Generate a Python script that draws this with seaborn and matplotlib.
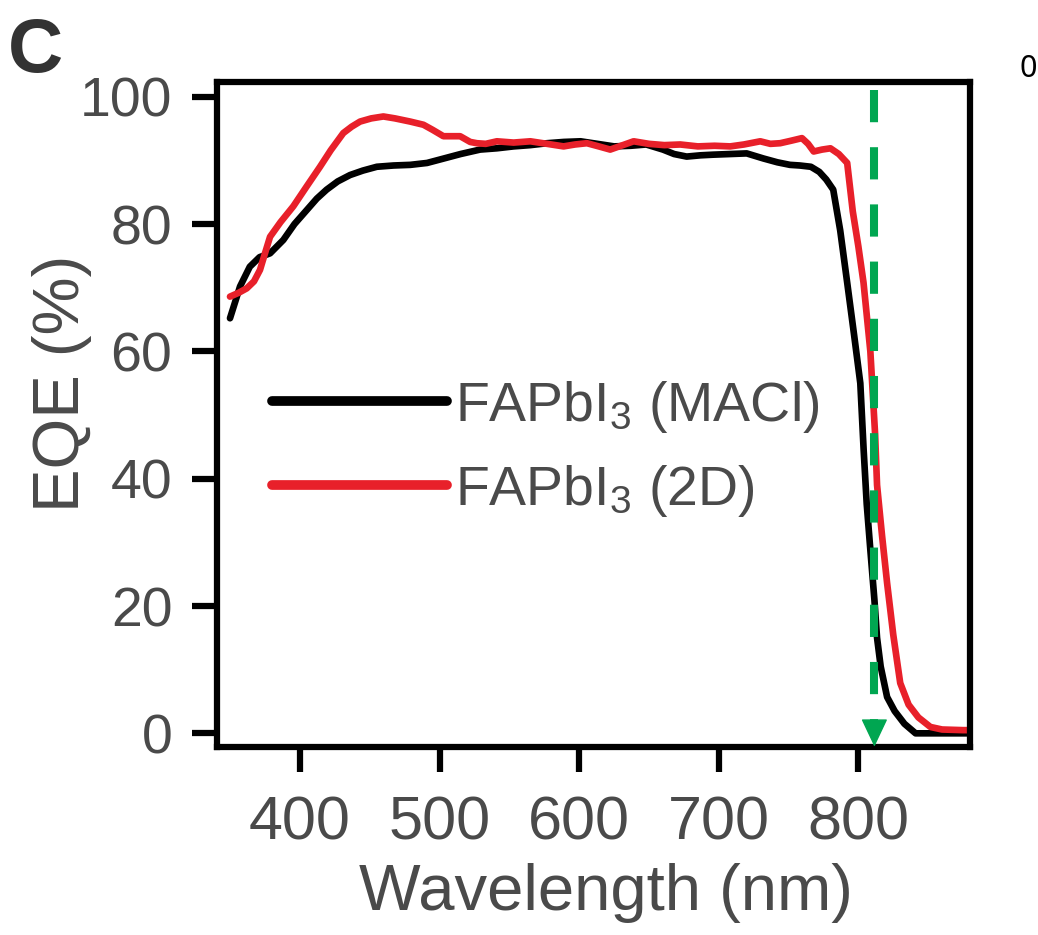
import numpy as np
import pandas as pd
import matplotlib
matplotlib.use("Agg")
import matplotlib.pyplot as plt
import seaborn as sns

# EQE spectra (wavelength in nm, EQE in %)
maci_nm = [349.8, 357, 364, 371, 378.5, 388, 396, 404.8, 412, 419, 427, 435.8,
           445, 455, 467, 479, 491, 503, 515, 529, 541, 553, 565, 577, 589,
           601, 613, 625, 637, 648, 660, 668, 677, 687, 696, 708, 720, 732,
           742, 751, 758, 766, 772, 777, 782, 787, 792, 797, 801.4, 803.8,
           806, 808.6, 811.5, 813.4, 816, 820.6, 826, 833, 841, 860, 880]
maci_eqe = [65.2, 70.2, 73.3, 74.8, 75.4, 77.5, 80.0, 82.2, 84.0, 85.4, 86.7, 87.7,
            88.4, 89.0, 89.2, 89.3, 89.6, 90.3, 91.0, 91.7, 91.9, 92.2, 92.4, 92.7, 92.9,
            93.0, 92.6, 92.2, 92.3, 92.5, 91.7, 91.0, 90.6, 90.8, 90.9, 91.0, 91.1, 90.3,
            89.7, 89.3, 89.2, 89.0, 88.2, 87.0, 85.4, 79.0, 70.8, 62.5, 55.0, 44.5,
            36.0, 28.8, 21.0, 15.0, 10.5, 5.7, 3.5, 1.5, 0.0, 0.0, 0.0]

twod_nm = [349.8, 356, 361.8, 367, 371.3, 375, 378.5, 386, 395.2, 405, 414.3, 422,
           431, 437, 443, 451, 459.7, 468, 478.9, 488.4, 495, 502.7, 514.7, 521.9,
           526.7, 533, 541, 553, 565, 577, 588.8, 597, 605.5, 614, 622.2, 630, 639,
           650, 661, 672.4, 685, 697, 708.2, 718, 729.7, 737, 744, 752, 759.6, 764,
           768, 774, 780, 786, 792, 796, 800, 803.7, 808.6, 812, 813.4, 817, 820.6,
           825, 830, 836, 843, 851.6, 860, 875, 880]
twod_eqe = [68.6, 69.2, 69.9, 71.0, 72.8, 75.5, 78.0, 80.3, 82.8, 86.0, 89.0, 91.6,
            94.3, 95.3, 96.1, 96.6, 96.9, 96.6, 96.1, 95.6, 94.8, 93.8, 93.8, 92.9,
            92.7, 92.6, 93.0, 92.8, 93.0, 92.6, 92.2, 92.5, 92.7, 92.2, 91.7, 92.3, 93.0,
            92.6, 92.4, 92.5, 92.2, 92.3, 92.2, 92.5, 93.0, 92.6, 92.7, 93.1, 93.5, 92.6,
            91.4, 91.7, 91.9, 91.0, 89.6, 82.0, 76.5, 70.8, 60.0, 47.0, 39.0, 31.0, 23.6,
            15.5, 7.9, 4.5, 2.5, 1.0, 0.6, 0.5, 0.5]

labels = ["FAPbI$_3$ (MACl)", "FAPbI$_3$ (2D)"]
line_colors = ["#000000", "#e8202a"]
cutoff_nm = 811.5          # band-edge marker (green dashed arrow)
x_ticks = [400, 500, 600, 700, 800]
y_ticks = [0, 20, 40, 60, 80, 100]

df = pd.concat([
    pd.DataFrame({"wavelength": maci_nm, "eqe": maci_eqe, "sample": labels[0]}),
    pd.DataFrame({"wavelength": twod_nm, "eqe": twod_eqe, "sample": labels[1]}),
], ignore_index=True)

sns.set_style("ticks")
plt.rcParams["font.family"] = ["Liberation Sans", "DejaVu Sans"]
plt.rcParams["mathtext.default"] = "regular"

text_gray = "#4a4a4a"
green = "#00a651"

fig = plt.figure(figsize=(10.38, 9.35), dpi=100)
ax = fig.add_axes([0.2088, 0.2014, 0.7257, 0.7112])

sns.lineplot(data=df, x="wavelength", y="eqe", hue="sample",
             palette=dict(zip(labels, line_colors)), linewidth=4.8,
             estimator=None, sort=False, ax=ax)

# green dashed arrow at the absorption edge
ylim_lo, ylim_hi = -2.1, 102.36
ax.plot([cutoff_nm, cutoff_nm], [101.1, 1.8], color=green, lw=5.8,
        dashes=(4.0, 3.1), solid_capstyle="butt", zorder=4)
ax.annotate("", xy=(cutoff_nm, ylim_lo), xytext=(cutoff_nm, 1.8),
            arrowprops=dict(arrowstyle="-|>,head_length=1.8,head_width=0.85",
                            color=green, lw=1, shrinkA=0, shrinkB=0),
            zorder=5)

ax.set_xlim(340.3, 880.0)
ax.set_ylim(ylim_lo, ylim_hi)
ax.set_xticks(x_ticks)
ax.set_yticks(y_ticks)

for side in ["left", "right", "top", "bottom"]:
    ax.spines[side].set_linewidth(4.5)
    ax.spines[side].set_color("black")

ax.tick_params(axis="both", direction="out", length=18, width=4.5,
               color="black", labelcolor=text_gray)
ax.tick_params(axis="x", labelsize=44, pad=17)
ax.tick_params(axis="y", labelsize=40, pad=14)

ax.set_xlabel("Wavelength (nm)", fontsize=47, color=text_gray)
ax.set_ylabel("EQE (%)", fontsize=47, color=text_gray)
ax.xaxis.set_label_coords(0.517, -0.175)
ax.yaxis.set_label_coords(-0.165, 0.547)

leg = ax.legend(loc="center left", bbox_to_anchor=(0.073, 0.448),
                frameon=False, fontsize=40, handlelength=3.15,
                handletextpad=0.15, labelspacing=0.5, borderpad=0,
                borderaxespad=0)
for line in leg.get_lines():
    line.set_linewidth(7)
for t in leg.get_texts():
    t.set_color(text_gray)

fig.text(0.008, 1 - 72 / 935, "C", fontsize=55, fontweight="bold",
         color="#333333", va="baseline")
fig.text(1019 / 1038, 1 - 77 / 935, "0", fontsize=22, color="black",
         family=["Noto Sans", "DejaVu Sans"], va="baseline")

fig.savefig("out.png", dpi=100, facecolor="white")
